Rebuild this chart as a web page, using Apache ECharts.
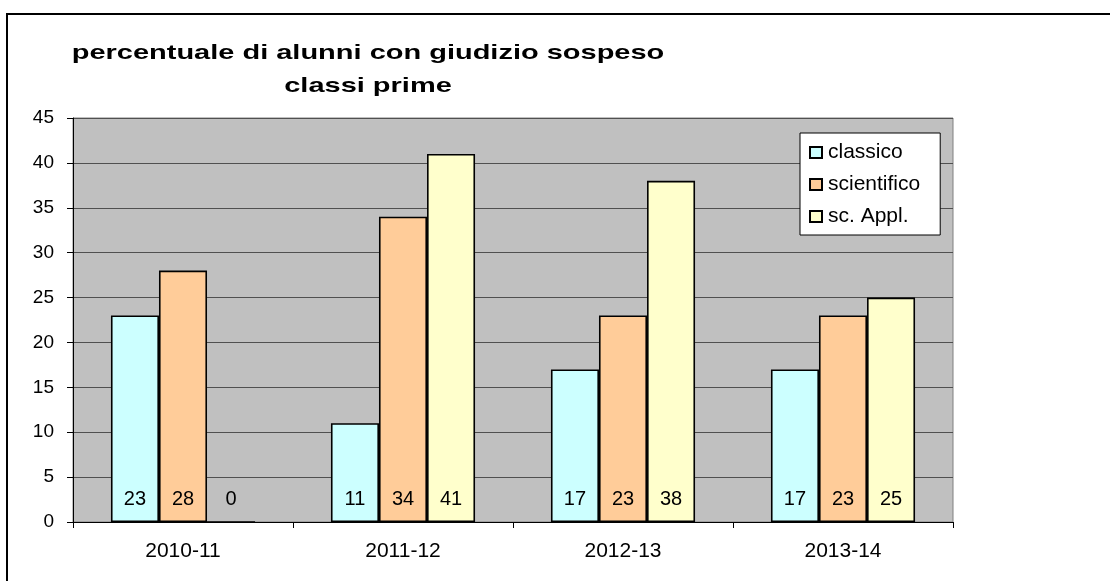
<!DOCTYPE html>
<html>
<head>
<meta charset="utf-8">
<script src="https://cdn.jsdelivr.net/npm/echarts@6/dist/echarts.min.js"></script>
<style>
html,body{margin:0;padding:0;background:#fff;}
#c{width:1110px;height:581px;}
</style>
</head>
<body>
<div id="c"></div>
<script>
const categories = ['2010-11', '2011-12', '2012-13', '2013-14'];
const classico = [23, 11, 17, 17];
const scientifico = [28, 34, 23, 23];
const scAppl = [0, 41, 38, 25];
const seriesNames = ['classico', 'scientifico', 'sc. Appl.'];
const seriesColors = ['#ccffff', '#ffcc99', '#ffffcc'];
const yTicks = {min: 0, max: 45, interval: 5};
const titleLines = ['percentuale di alunni con giudizio sospeso', 'classi prime'];

const FONT = 'Liberation Sans, Arial, sans-serif';
const chart = echarts.init(document.getElementById('c'), null, {renderer: 'canvas'});

function mkSeries(name, data, color) {
  return {
    name: name,
    type: 'bar',
    data: data,
    barGap: '0%',
    barCategoryGap: '34.5%',
    itemStyle: {color: color, borderColor: '#000', borderWidth: 1.6},
    label: {
      show: true,
      position: 'insideBottom',
      distance: 13,
      color: '#000',
      fontSize: 20,
      fontFamily: FONT
    },
    emphasis: {disabled: true},
    animation: false
  };
}

function titleText(str, y) {
  return {
    type: 'text', x: 368, y: y, scaleX: 1.38, silent: true, z: 50,
    style: {
      text: str, fill: '#000', align: 'center', verticalAlign: 'middle',
      font: 'bold 21px ' + FONT
    }
  };
}

chart.setOption({
  animation: false,
  backgroundColor: '#fff',
  graphic: [
    {type: 'rect', shape: {x: 7, y: 14, width: 1200, height: 700}, silent: true,
     style: {fill: 'none', stroke: '#000', lineWidth: 2}, z: 100},
    titleText(titleLines[0], 53),
    titleText(titleLines[1], 86)
  ],
  legend: {
    orient: 'vertical',
    left: 800,
    top: 133,
    data: seriesNames,
    itemWidth: 12,
    itemHeight: 11,
    itemGap: 11,
    padding: [9, 20, 8, 9],
    backgroundColor: '#fff',
    borderColor: '#000',
    borderWidth: 1,
    borderRadius: 0,
    icon: 'rect',
    textStyle: {fontSize: 21, color: '#000', fontFamily: FONT, padding: [0, 0, 0, 1]}
  },
  grid: {
    left: 73, right: 157, top: 118, bottom: 59,
    show: true, backgroundColor: '#c0c0c0', borderColor: '#808080', borderWidth: 1,
    containLabel: false
  },
  xAxis: {
    type: 'category',
    data: categories,
    axisLine: {show: true, lineStyle: {color: '#000', width: 1}},
    axisTick: {show: true, length: 6, lineStyle: {color: '#000'}},
    axisLabel: {color: '#000', fontSize: 21, margin: 19, fontFamily: FONT},
    splitLine: {show: false}
  },
  yAxis: {
    type: 'value',
    min: yTicks.min, max: yTicks.max, interval: yTicks.interval,
    axisLine: {show: true, lineStyle: {color: '#000', width: 1}},
    axisTick: {show: true, length: 6, lineStyle: {color: '#000'}},
    axisLabel: {color: '#000', fontSize: 19, margin: 19, fontFamily: FONT},
    splitLine: {show: true, lineStyle: {color: '#505050', width: 1}}
  },
  series: [
    mkSeries(seriesNames[0], classico, seriesColors[0]),
    mkSeries(seriesNames[1], scientifico, seriesColors[1]),
    mkSeries(seriesNames[2], scAppl, seriesColors[2])
  ]
});
</script>
</body>
</html>
